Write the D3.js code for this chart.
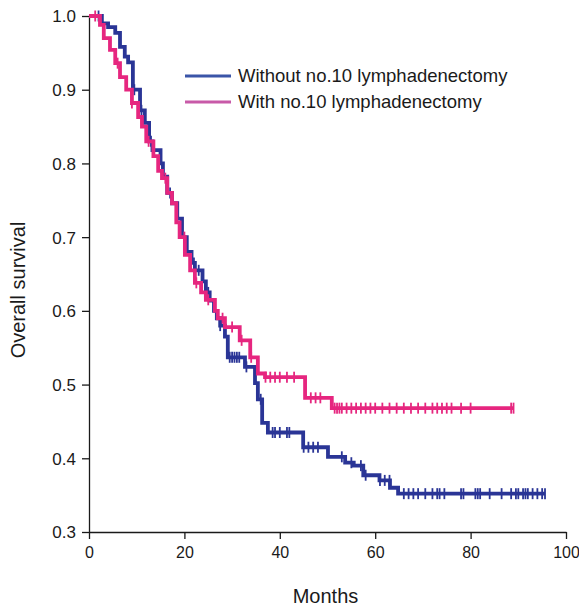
<!DOCTYPE html>
<html>
<head>
<meta charset="utf-8">
<script src="https://cdn.jsdelivr.net/npm/d3@7"></script>
<style>
  body { margin: 0; background: #fff; }
  text { font-family: 'Liberation Sans', Arial, sans-serif; fill: #1a1a1a; }
  .axis path, .axis line { stroke: #1a1a1a; stroke-width: 1.3; }
</style>
</head>
<body>
<script>
// Kaplan-Meier steps: [month, survival after that month]
const without10 = [[0, 1.0], [2.7, 0.99], [4.0, 0.985], [5.5, 0.977], [6.5, 0.958], [7.5, 0.945], [8.2, 0.937], [9.2, 0.9], [10.7, 0.872], [11.7, 0.855], [12.6, 0.83], [13.3, 0.818], [15.0, 0.8], [15.5, 0.782], [16.4, 0.76], [17.4, 0.746], [18.5, 0.725], [19.5, 0.7], [20.5, 0.68], [21.5, 0.665], [22.2, 0.655], [23.8, 0.64], [24.5, 0.625], [25.3, 0.614], [26.2, 0.6], [26.8, 0.59], [27.5, 0.58], [28.5, 0.565], [29.1, 0.537], [32.7, 0.524], [34.8, 0.502], [35.4, 0.48], [36.3, 0.448], [37.5, 0.435], [44.9, 0.415], [50.1, 0.402], [53.7, 0.394], [55.5, 0.39], [57.5, 0.377], [60.9, 0.37], [63.1, 0.36], [64.8, 0.352], [95.6, 0.352]]
const with10 = [[0, 1.0], [2.3, 0.988], [3.1, 0.97], [4.4, 0.954], [5.5, 0.936], [6.5, 0.917], [7.8, 0.9], [9.0, 0.882], [10.3, 0.863], [11.1, 0.85], [12.0, 0.83], [13.5, 0.81], [14.5, 0.79], [15.3, 0.78], [16.4, 0.76], [17.4, 0.746], [18.3, 0.72], [19.0, 0.7], [20.1, 0.676], [21.2, 0.655], [22.2, 0.638], [23.5, 0.625], [24.5, 0.615], [26.4, 0.6], [27.0, 0.59], [28.5, 0.578], [31.6, 0.56], [33.8, 0.537], [35.4, 0.515], [36.9, 0.51], [45.3, 0.482], [50.9, 0.468], [88.9, 0.468]]

// censored observations (months)
const censorWithout = [2, 9.5, 11, 13, 17, 22, 23, 24.6, 25, 27.5, 29.5, 30, 30.5, 31, 31.5, 33, 36, 38.5, 39, 40, 41.5, 42, 45, 46, 47, 48, 53, 55, 57, 58, 61, 62, 63, 66, 67, 68, 69, 70.5, 72, 73, 73.5, 74.5, 78, 78.5, 81, 81.5, 82, 84, 86.5, 88.5, 89.5, 90, 91, 91.5, 92, 93, 94, 95, 95.6]
const censorWith = [1.3, 6, 9, 12.5, 16, 20, 22.5, 25, 28, 30, 32, 34, 37, 38, 39, 40, 41.5, 43, 46.5, 47.5, 48.5, 51.5, 52, 52.5, 53, 54, 55, 56, 57, 58, 59, 60, 61.5, 63, 64.5, 66, 67.5, 69, 70.5, 72, 73, 74, 75, 76, 78, 80, 88.5, 89]

const seriesNames = ['Without no.10 lymphadenectomy', 'With no.10 lymphadenectomy']
const xTicks = [0, 20, 40, 60, 80, 100]
const yTicks = [0.3, 0.4, 0.5, 0.6, 0.7, 0.8, 0.9, 1.0]

const svg = d3.select('body').append('svg')
  .attr('width', 579)
  .attr('height', 608)

const margin = { top: 16, right: 13, bottom: 76, left: 89 }
const width = 579 - margin.left - margin.right
const height = 608 - margin.top - margin.bottom

const x = d3.scaleLinear().domain([0, 100]).range([0, width])
const y = d3.scaleLinear().domain([0.3, 1.0]).range([height, 0])

const g = svg.append('g').attr('transform', `translate(${margin.left},${margin.top})`)

g.append('g')
  .attr('class', 'axis')
  .attr('transform', `translate(0,${height})`)
  .call(d3.axisBottom(x).tickValues(xTicks).tickSize(7).tickPadding(8).tickSizeOuter(0))
  .call(a => a.selectAll('text').style('font-size', '16px'))

g.append('g')
  .attr('class', 'axis')
  .call(d3.axisLeft(y).tickValues(yTicks).tickFormat(d3.format('.1f')).tickSize(7).tickPadding(6).tickSizeOuter(0))
  .call(a => a.selectAll('text').style('font-size', '17px').attr('dy', '0.35em'))

svg.append('text')
  .attr('x', margin.left + width / 2 - 2)
  .attr('y', 603)
  .attr('text-anchor', 'middle')
  .style('font-size', '20px')
  .text('Months')

svg.append('text')
  .attr('transform', `translate(25,${margin.top + height / 2 + 16}) rotate(-90)`)
  .attr('text-anchor', 'middle')
  .style('font-size', '20px')
  .text('Overall survival')

const colors = ['#2a3596', '#e6267f']
const legendColors = ['#3a55a8', '#c85aa8']

const line = d3.line()
  .x(d => x(d[0]))
  .y(d => y(d[1]))
  .curve(d3.curveStepAfter)

// value of a KM curve at time t
function survAt(steps, t) {
  let v = steps[0][1]
  for (const s of steps) { if (s[0] <= t) v = s[1] }
  return v
}

const curves = [
  { steps: without10, censor: censorWithout, color: colors[0] },
  { steps: with10, censor: censorWith, color: colors[1] }
]

curves.forEach(c => {
  g.append('path')
    .datum(c.steps)
    .attr('fill', 'none')
    .attr('stroke', c.color)
    .attr('stroke-width', 3.8)
    .attr('d', line)

  g.selectAll(null)
    .data(c.censor)
    .enter()
    .append('line')
    .attr('x1', d => x(d))
    .attr('x2', d => x(d))
    .attr('y1', d => y(survAt(c.steps, d)) - 5.5)
    .attr('y2', d => y(survAt(c.steps, d)) + 5.5)
    .attr('stroke', c.color)
    .attr('stroke-width', 1.8)
})

const legend = svg.append('g').attr('transform', 'translate(185,76)')
seriesNames.forEach((name, i) => {
  legend.append('line')
    .attr('x1', 0).attr('x2', 46)
    .attr('y1', i * 26).attr('y2', i * 26)
    .attr('stroke', legendColors[i])
    .attr('stroke-width', 3)
  legend.append('text')
    .attr('x', 53)
    .attr('y', i * 26)
    .attr('dy', '0.35em')
    .style('font-size', '18.5px')
    .text(name)
})
</script>
</body>
</html>
